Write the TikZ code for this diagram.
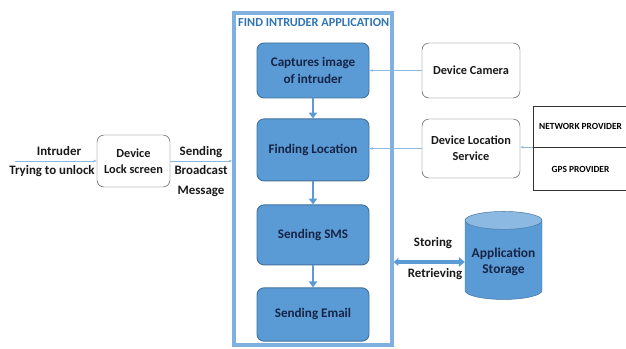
\documentclass[tikz,border=0pt]{standalone}
\usepackage{fontspec}
\setmainfont{Carlito}
\usepackage{xcolor}
\definecolor{boxblue}{RGB}{91,155,213}
\definecolor{edgeblue}{RGB}{65,113,156}
\definecolor{frameblue}{RGB}{126,177,224}
\definecolor{titleblue}{RGB}{46,117,182}
\definecolor{navy}{RGB}{22,36,70}
\definecolor{linkblue}{RGB}{140,185,225}
\usetikzlibrary{arrows.meta, positioning, shapes.geometric}

\begin{document}
\begin{tikzpicture}[x=0.03cm, y=-0.03cm,
    appbox/.style={rectangle, rounded corners=6pt, draw=edgeblue, fill=boxblue,
      thick, minimum width=3.36cm, minimum height=1.7cm, align=center,
      font=\bfseries\fontsize{11.2}{14}\selectfont, text=navy},
    devbox/.style={rectangle, rounded corners=6pt, draw=black!70, fill=white,
      minimum width=2.94cm, minimum height=1.65cm, align=center,
      font=\bfseries\fontsize{10.5}{13.5}\selectfont, text=black!90},
    provbox/.style={rectangle, draw=black!80, minimum width=2.85cm,
      align=center, font=\bfseries\fontsize{8}{9}\selectfont},
    flow/.style={-{Triangle[length=5pt,width=7pt]}, line width=2.2pt, draw=boxblue},
    link/.style={-{Stealth[length=3pt]}, draw=linkblue, line width=0.6pt},
    lbl/.style={font=\bfseries\fontsize{11}{16.5}\selectfont, text=black!90}
]
\useasboundingbox (0,0) rectangle (626,349);

%% Cadre de l'application
\node[draw=frameblue, line width=3pt, minimum width=4.74cm,
  minimum height=9.96cm] (app) at (313,179) {};
\node[anchor=north west, inner sep=0pt, text=titleblue,
  font=\bfseries\fontsize{10.5}{12}\selectfont] (title) at (238,18)
  {FIND INTRUDER APPLICATION};

%% Etapes de l'application
\node[appbox, minimum height=1.65cm] (cap) at (313,70.5) {Captures image\\of intruder};
\node[appbox, below=0.6cm of cap, minimum height=1.86cm] (loc) {Finding Location};
\node[appbox, below=0.69cm of loc, minimum height=1.8cm] (sms) {Sending SMS};
\node[appbox, below=0.66cm of sms, minimum height=1.6cm] (mail) {Sending Email};
\draw[flow] (cap) -- (loc);
\draw[flow] (loc) -- (sms);
\draw[flow] (sms) -- (mail);

%% Cote intrus
\node[devbox, minimum width=2.19cm, minimum height=1.56cm] (lock) at (133.5,161)
  {Device\\Lock screen};
\coordinate (start) at (15,161);
\draw[link] (start) -- (lock);
\node[lbl] (intr) at (59,151) {Intruder};
\node[lbl] (try) at (52,171) {Trying to unlock};
\draw[link] (lock) -- (lock -| app.west);
\node[lbl, align=center] (bcast) at (201,171.5) {Sending\\Broadcast\\Message};

%% Services du telephone
\node[devbox] (cam) at (471,70.5) {Device Camera};
\node[devbox, minimum height=1.77cm] (dls) at (471,148.5) {Device Location\\Service};
\draw[link] (cam) -- (cam -| cap.east);
\draw[link] (dls) -- (dls -| loc.east);

%% Fournisseurs
\node[provbox, minimum height=1.23cm] (net) at (580.5,126.5) {NETWORK PROVIDER};
\node[provbox, minimum height=1.29cm, below=0pt of net] (gps) {GPS PROVIDER};
\draw[link] (net.south west) -- (net.south west -| dls.east);

%% Stockage
\node[cylinder, shape border rotate=90, aspect=0.25, draw=edgeblue,
  cylinder uses custom fill, cylinder body fill=boxblue,
  cylinder end fill=boxblue!70, minimum width=2.31cm, minimum height=2.64cm,
  align=center, font=\bfseries\fontsize{11.5}{14}\selectfont, text=navy]
  (store) at (503.5,262) {Application\\Storage};
\draw[line width=3pt, draw=boxblue,
  {Triangle[length=4pt,width=7pt]}-{Triangle[length=5pt,width=8pt]}]
  (app.east |- store) -- (store);
\node[lbl] (stor) at (433,243) {Storing};
\node[lbl] (retr) at (435,274) {Retrieving};
\end{tikzpicture}
\end{document}
